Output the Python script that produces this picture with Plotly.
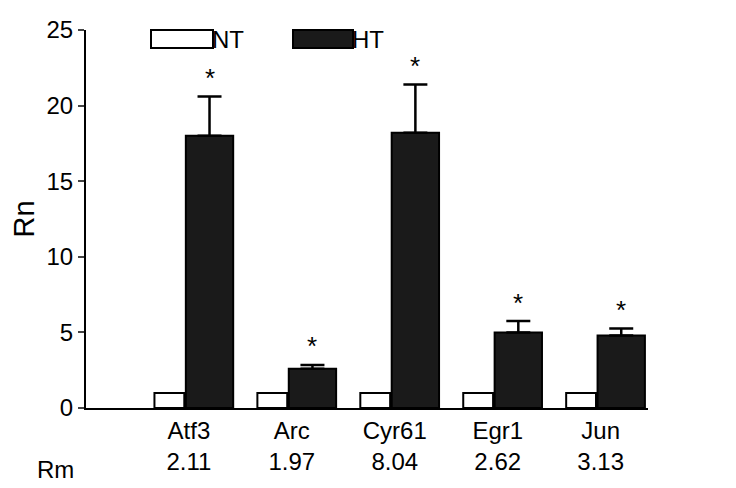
import plotly.graph_objects as go

genes = ["Atf3", "Arc", "Cyr61", "Egr1", "Jun"]
rm = ["2.11", "1.97", "8.04", "2.62", "3.13"]
nt = [1, 1, 1, 1, 1]
ht = [18.0, 2.6, 18.2, 5.0, 4.8]
ht_err = [2.6, 0.25, 3.2, 0.75, 0.45]

pos = list(range(len(genes)))
fig = go.Figure()
fig.add_bar(x=[p - 0.19 for p in pos], y=nt, width=0.29, name="NT",
            marker=dict(color="white", line=dict(color="black", width=2)))
fig.add_bar(x=[p + 0.2 for p in pos], y=ht, width=0.46, name="HT",
            marker=dict(color="#1a1a1a", line=dict(color="black", width=2)),
            error_y=dict(type="data", symmetric=False, array=ht_err,
                         arrayminus=[0]*len(ht), color="black", thickness=2.5, width=12))
for p, v, e in zip(pos, ht, ht_err):
    fig.add_annotation(x=p + 0.2, y=v + e + 0.1, text="*", showarrow=False,
                       yanchor="bottom", font=dict(size=26, color="black"))
fig.add_annotation(xref="paper", yref="paper", x=-0.018, y=-0.164, text="Rm",
                   showarrow=False, xanchor="right", yanchor="middle",
                   font=dict(size=24, color="black"))
# legend
for x0, x1, fill, lbl in [(143, 205, "white", "NT"), (285, 345, "#1a1a1a", "HT")]:
    fig.add_shape(type="rect", xref="paper", yref="paper",
                  x0=(x0 - 78) / 562, x1=(x1 - 78) / 562,
                  y0=(400 - 40) / 378, y1=(400 - 22) / 378,
                  fillcolor=fill, line=dict(color="black", width=2))
    fig.add_annotation(xref="paper", yref="paper", x=(x1 - 78) / 562 - 0.005, y=(400 - 31) / 378,
                       text=lbl, showarrow=False, xanchor="left", yanchor="middle",
                       font=dict(size=24, color="black"))

fig.update_layout(
    width=736, height=488, margin=dict(l=78, r=96, t=22, b=88),
    paper_bgcolor="white", plot_bgcolor="white", showlegend=False,
    barmode="overlay", font=dict(family="Liberation Sans, Arial", size=24, color="black"),
)
fig.update_xaxes(range=[-1.0, 4.46], tickmode="array", tickvals=pos,
                 ticktext=[f"{g}<br>{r}" for g, r in zip(genes, rm)],
                 showline=True, linecolor="black", linewidth=2, ticks="", showgrid=False,
                 automargin=False)
fig.update_yaxes(range=[0, 25], tickvals=[0, 5, 10, 15, 20, 25], showline=True,
                 linecolor="black", linewidth=2, ticks="outside", ticklen=6, tickwidth=2,
                 showgrid=False, zeroline=False, title=dict(text="Rn", standoff=4),
                 automargin=False)
fig.write_html("out.html")
